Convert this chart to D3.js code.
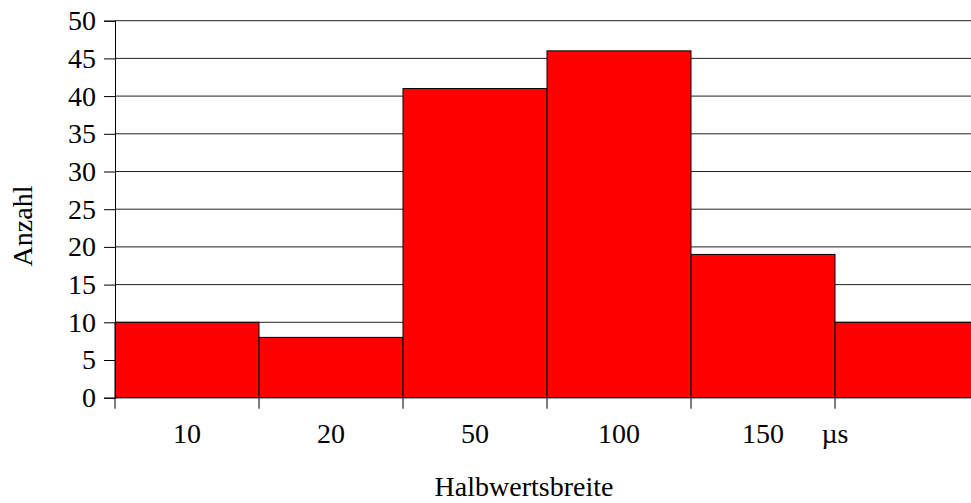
<!DOCTYPE html>
<html>
<head>
<meta charset="utf-8">
<script src="https://cdn.jsdelivr.net/npm/d3@7"></script>
<style>
  body { margin: 0; background: #fff; }
  text { font-family: "Liberation Serif", "DejaVu Serif", serif; fill: #000; }
</style>
</head>
<body>
<svg id="chart" width="971" height="503"></svg>
<script>
// Halbwertsbreite classes and counts
var categories = ["10", "20", "50", "100", "150", ""];
var counts = [10, 8, 41, 46, 19, 10];
var yTicks = [0, 5, 10, 15, 20, 25, 30, 35, 40, 45, 50];
var unitLabel = "µs";
var xTitle = "Halbwertsbreite";
var yTitle = "Anzahl";

var svg = d3.select("#chart");
var plotL = 115, plotT = 20.7, plotB = 397.7, bandW = 144, fs = "28px";

var x = d3.scaleBand().domain(categories.map(function(d, i) { return i; }))
    .range([plotL, plotL + bandW * categories.length]).padding(0);
var y = d3.scaleLinear().domain([0, 50]).range([plotB, plotT]);

// grid lines
svg.append("g").selectAll("line").data(yTicks.filter(function(d) { return d > 0; }))
    .enter().append("line")
    .attr("x1", plotL).attr("x2", 971)
    .attr("y1", function(d) { return y(d); }).attr("y2", function(d) { return y(d); })
    .attr("stroke", "#222").attr("stroke-width", 1);

// bars
svg.append("g").selectAll("rect").data(counts).enter().append("rect")
    .attr("x", function(d, i) { return x(i); })
    .attr("y", function(d) { return y(d); })
    .attr("width", x.bandwidth())
    .attr("height", function(d) { return plotB - y(d); })
    .attr("fill", "#ff0000").attr("stroke", "#000").attr("stroke-width", 1);

// y axis
var yAxis = d3.axisLeft(y).tickValues(yTicks).tickSize(11).tickPadding(8);
var gy = svg.append("g").attr("transform", "translate(" + plotL + ",0)").call(yAxis);
gy.attr("font-family", null);
gy.select(".domain").attr("stroke", "#000");
gy.selectAll(".tick line").attr("stroke", "#000");
gy.selectAll("text").style("font-size", fs).style("font-family", "Liberation Serif, serif");

// x axis: ticks on class boundaries
var bounds = categories.map(function(d, i) { return x(i); });
var gx = svg.append("g");
gx.append("line").attr("x1", plotL).attr("x2", 971).attr("y1", plotB).attr("y2", plotB).attr("stroke", "#000");
gx.selectAll(".xt").data(bounds).enter().append("line").attr("class", "xt")
    .attr("x1", function(d) { return d; }).attr("x2", function(d) { return d; })
    .attr("y1", plotB).attr("y2", plotB + 11).attr("stroke", "#000");
gx.selectAll(".xl").data(categories).enter().append("text").attr("class", "xl")
    .attr("x", function(d, i) { return x(i) + x.bandwidth() / 2; })
    .attr("y", 443).attr("text-anchor", "middle").style("font-size", fs)
    .text(function(d) { return d; });
gx.append("text").attr("x", x(5)).attr("y", 443).attr("text-anchor", "middle")
    .style("font-size", fs).text(unitLabel);

// titles
svg.append("text").attr("x", 524).attr("y", 496).attr("text-anchor", "middle")
    .style("font-size", fs).text(xTitle);
svg.append("text").attr("transform", "translate(32,226) rotate(-90)")
    .attr("text-anchor", "middle").style("font-size", fs).text(yTitle);
</script>
</body>
</html>
